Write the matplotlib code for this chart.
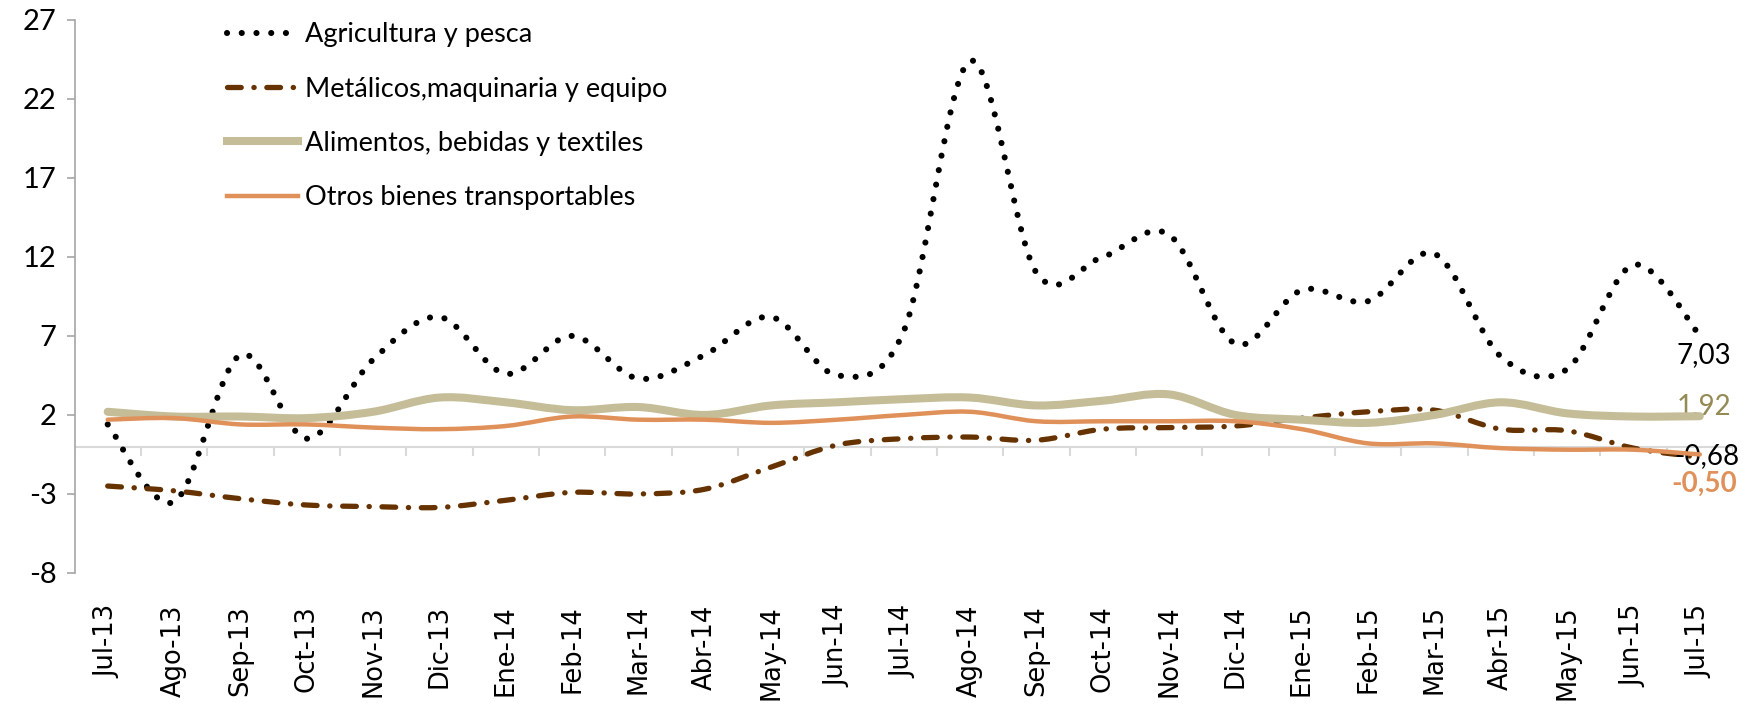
import numpy as np
import matplotlib.pyplot as plt
from matplotlib.path import Path
from matplotlib.patches import PathPatch
from matplotlib.lines import Line2D

plt.rcParams['axes.unicode_minus'] = False

meses = ['Jul-13', 'Ago-13', 'Sep-13', 'Oct-13', 'Nov-13', 'Dic-13', 'Ene-14',
         'Feb-14', 'Mar-14', 'Abr-14', 'May-14', 'Jun-14', 'Jul-14', 'Ago-14',
         'Sep-14', 'Oct-14', 'Nov-14', 'Dic-14', 'Ene-15', 'Feb-15', 'Mar-15',
         'Abr-15', 'May-15', 'Jun-15', 'Jul-15']

agricultura = [1.4, -3.5, 5.8, 0.5, 5.5, 8.2, 4.6, 7.0, 4.3, 5.8, 8.2, 4.5, 7.3,
               24.4, 11.0, 12.0, 13.4, 6.5, 9.9, 9.2, 12.2, 5.7, 4.9, 11.5, 7.03]
metalicos = [-2.5, -2.8, -3.3, -3.7, -3.8, -3.85, -3.4, -2.9, -3.0, -2.7, -1.3,
             0.1, 0.5, 0.6, 0.4, 1.1, 1.2, 1.3, 1.8, 2.2, 2.3, 1.1, 1.0, -0.1, -0.68]
alimentos = [2.2, 1.9, 1.9, 1.8, 2.2, 3.1, 2.8, 2.3, 2.5, 2.0, 2.6, 2.8, 3.0,
             3.1, 2.6, 2.9, 3.3, 2.0, 1.7, 1.5, 2.0, 2.8, 2.1, 1.9, 1.92]
otros = [1.7, 1.8, 1.4, 1.4, 1.2, 1.1, 1.3, 1.9, 1.7, 1.7, 1.5, 1.7, 2.0,
         2.2, 1.6, 1.6, 1.6, 1.6, 1.1, 0.2, 0.2, -0.1, -0.2, -0.2, -0.50]

fuente = ['Lato', 'DejaVu Sans']


def curva(y):
    # curva suave tipo Excel (bezier de Catmull-Rom)
    pts = np.column_stack([np.arange(len(y)), np.asarray(y, float)])
    ext = np.vstack([pts[0], pts, pts[-1]])
    verts = [pts[0]]
    codes = [Path.MOVETO]
    for i in range(len(pts) - 1):
        p0, p1, p2, p3 = ext[i], ext[i + 1], ext[i + 2], ext[i + 3]
        verts += [p1 + (p2 - p0) / 6, p2 - (p3 - p1) / 6, p2]
        codes += [Path.CURVE4] * 3
    return Path(verts, codes)


series = [
    ('Agricultura y pesca', agricultura,
     dict(color='black', lw=4.4, ls=(0, (0.01, 2.4)))),
    ('Metálicos,maquinaria y equipo', metalicos,
     dict(color='#663300', lw=3.8, ls=(0, (2.6, 2.4, 0.05, 2.4)))),
    ('Alimentos, bebidas y textiles', alimentos,
     dict(color='#C4BD97', lw=5.8, ls='-')),
    ('Otros bienes transportables', otros,
     dict(color='#E0915A', lw=3.2, ls='-')),
]

fig = plt.figure(figsize=(17.54, 7.08), dpi=100)
ax = fig.add_axes([0.0425, 0.1907, 0.9455, 0.7813])

ax.axhline(0, color='#D9D9D9', lw=1.5, zorder=1)
ax.vlines(np.arange(0.5, 25, 1), -0.6, 0, color='#D9D9D9', lw=1.5, zorder=1)

handles = []
for k, (nombre, vals, st) in enumerate(series):
    patch = PathPatch(curva(vals), fill=False, edgecolor=st['color'],
                      lw=st['lw'], linestyle=st['ls'], capstyle='round',
                      joinstyle='round', zorder=2 + k)
    ax.add_patch(patch)
    handles.append(Line2D([], [], color=st['color'], lw=st['lw'],
                          ls=st['ls'], dash_capstyle='round'))

ax.set_xlim(-0.5, 24.5)
ax.set_ylim(-8, 27)
ax.set_yticks(range(-8, 28, 5))
ax.set_xticks(range(len(meses)))
ax.set_xticklabels(meses, rotation=90, fontsize=18.5, family='DejaVu Sans')
ax.tick_params(axis='x', length=0, pad=23)
ax.tick_params(axis='y', length=6, width=1.2, color='#A6A6A6', pad=7)
for t in ax.get_yticklabels():
    t.set_fontsize(21)
    t.set_family(fuente)

for s in ['top', 'right', 'bottom']:
    ax.spines[s].set_visible(False)
ax.spines['left'].set_color('#A6A6A6')
ax.spines['left'].set_linewidth(1.2)

leg = ax.legend(handles, [s[0] for s in series], loc='upper left',
                bbox_to_anchor=(0.084, 1.02), frameon=False,
                prop={'family': fuente, 'size': 19.5}, handlelength=2.6,
                handletextpad=0.25, labelspacing=1.08, borderpad=0)

# etiquetas del ultimo dato
ult = len(meses) - 1
ax.annotate('7,03', (ult, agricultura[-1]), xytext=(3, -14),
            textcoords='offset points', ha='center', va='center',
            fontsize=20, family=fuente, color='black')
ax.annotate('1,92', (ult, alimentos[-1]), xytext=(3, 7),
            textcoords='offset points', ha='center', va='center',
            fontsize=20, family=fuente, color='#948A54')
ax.annotate('-0,68', (ult, metalicos[-1]), xytext=(5, 1),
            textcoords='offset points', ha='center', va='center',
            fontsize=20, family=fuente, color='black')
ax.annotate('-0,50', (ult, otros[-1]), xytext=(3, -21),
            textcoords='offset points', ha='center', va='center',
            fontsize=20, family=fuente, color='#E0915A', fontweight='bold')

fig.savefig('out.png', dpi=100)
